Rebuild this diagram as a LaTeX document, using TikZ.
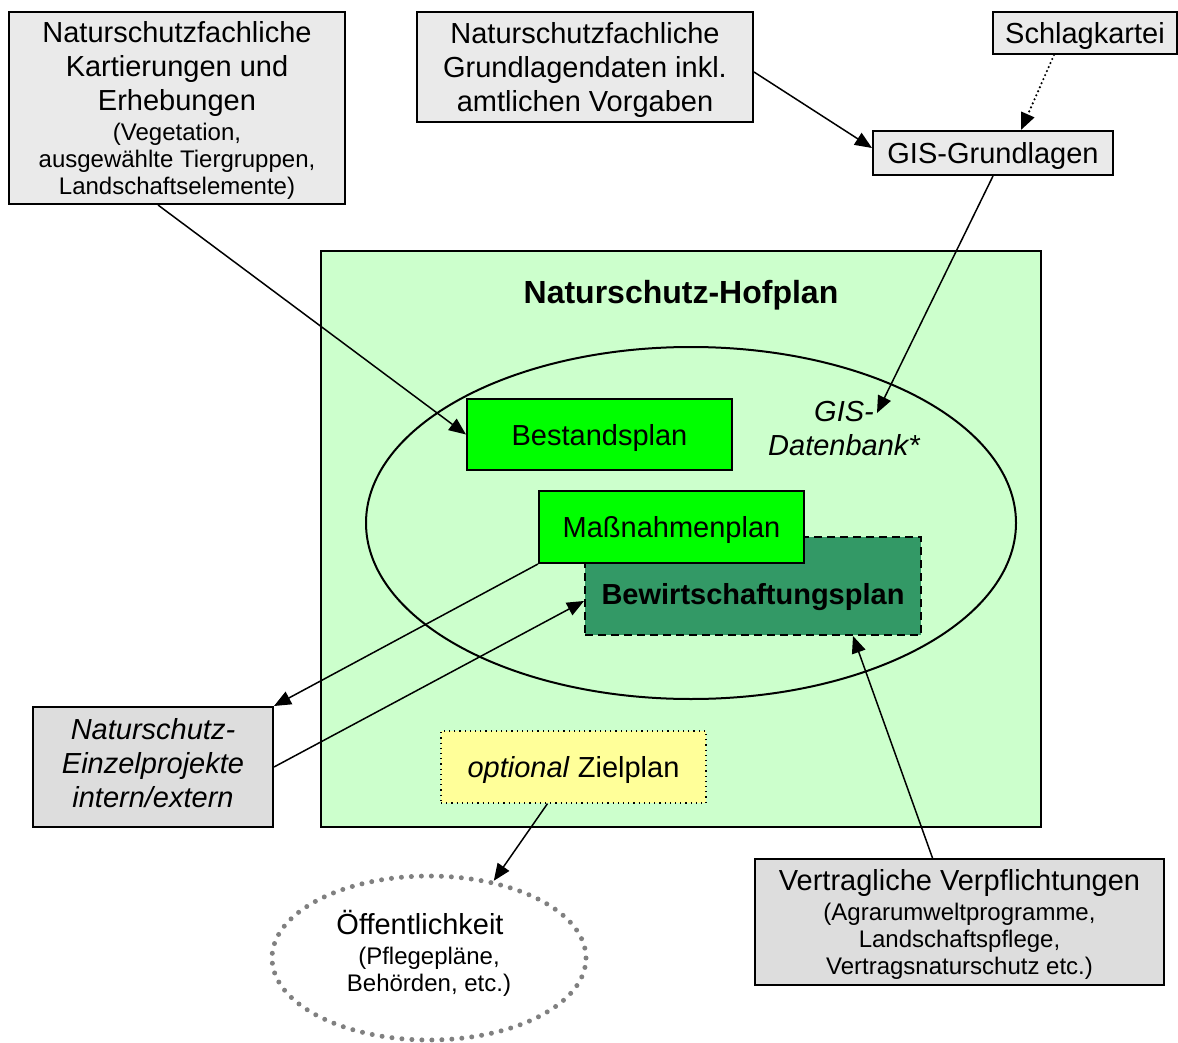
\documentclass[tikz,border=0pt]{standalone}
\usepackage{fontspec}
\setmainfont{Liberation Sans}
\usetikzlibrary{arrows.meta,calc,shapes.geometric}
\definecolor{infogrey}{HTML}{EAEAEA}
\definecolor{sidegrey}{HTML}{DDDDDD}
\definecolor{hofgreen}{HTML}{CCFFCC}
\definecolor{plangreen}{HTML}{00FF00}
\definecolor{bewgreen}{HTML}{339966}
\definecolor{zielyellow}{HTML}{FFFF99}
\newcommand{\mainsize}{\fontsize{14.5}{17}\selectfont}
\newcommand{\smallsize}{\fontsize{12}{13.5}\selectfont}
\newcommand{\titlesize}{\fontsize{16}{19}\selectfont}
\tikzset{
    info-box/.style = {draw, fill=infogrey, line width=1pt, rectangle, inner sep=0pt, text depth=0pt, align=center, font=\mainsize},
    side-box/.style = {info-box, fill=sidegrey},
    plan-box/.style = {draw, fill=plangreen, line width=1pt, rectangle, inner sep=0pt, text depth=0pt, font=\mainsize},
    bew-box/.style = {draw, fill=bewgreen, line width=1pt, dash pattern=on 4pt off 2.5pt, rectangle, inner sep=0pt, text height=18.4pt, text depth=0pt, font=\mainsize\bfseries},
    ziel-box/.style = {draw, fill=zielyellow, line width=0.6pt, dotted, rectangle, inner sep=0pt, text depth=0pt, font=\mainsize},
    arrow-line/.style = {-{Triangle[length=8.5pt,width=7pt]}, line width=0.75pt},
}

\begin{document}
\begin{tikzpicture}[x=0.5pt, y=-0.5pt]
\useasboundingbox (0,0) rectangle (1178,1043);
% sources at the top
\node[info-box, minimum width=168pt, minimum height=96pt] (kartierung) at (177,108) {Naturschutzfachliche\\Kartierungen und\\Erhebungen\\[-2pt]{\smallsize (Vegetation,}\\[-3.5pt]{\smallsize ausgewählte Tiergruppen,}\\[-3.5pt]{\smallsize Landschaftselemente)}};
\node[info-box, minimum width=168pt, minimum height=55pt] (grunddaten) at (585,67) {Naturschutzfachliche\\Grundlagendaten inkl.\\amtlichen Vorgaben};
\node[info-box, minimum width=92pt, minimum height=21pt] (schlagkartei) at (1085,33) {Schlagkartei};
\node[info-box, minimum width=120pt, minimum height=22pt] (gis) at (993,153) {GIS-Grundlagen};

% the farm plan
\node[draw, fill=hofgreen, line width=1pt, rectangle, minimum width=360pt, minimum height=288pt] (hofplan) at (681,539) {};
\node[font=\titlesize\bfseries, text depth=0pt] (titel) at (681,292) {Naturschutz-Hofplan};
\node[draw, line width=1pt, ellipse, inner sep=0pt, minimum width=325pt, minimum height=176pt] (datenbank) at (691,523) {};
\node[plan-box, minimum width=132.5pt, minimum height=35.5pt] (bestand) at (599.5,434.5) {Bestandsplan};
\node[font=\mainsize\itshape, align=center, text depth=0pt] (gisdb) at (844,428) {GIS-\\Datenbank*};
\coordinate (gisdbpt) at (877,413);
\node[bew-box, minimum width=168pt, minimum height=49pt] (bewirtschaftung) at (753,586) {Bewirtschaftungsplan};
\node[plan-box, minimum width=132.5pt, minimum height=36pt] (massnahmen) at (671.5,527) {Maßnahmenplan};
\node[ziel-box, minimum width=132.5pt, minimum height=36pt] (ziel) at (573.5,767) {\textit{optional} Zielplan};

% partners below
\node[side-box, font=\mainsize\itshape, text depth=4pt, minimum width=120pt, minimum height=60pt] (einzel) at (153,767) {Naturschutz-\\Einzelprojekte\\intern/extern};
\node[draw=gray, line width=2.5pt, line cap=round, dash pattern=on 0pt off 5pt, ellipse, inner sep=0pt, minimum width=157pt, minimum height=82pt, text depth=7pt, align=center, font=\mainsize] (oeff) at (429,958) {Öffentlichkeit\hspace*{9pt}\\[-2pt]{\smallsize (Pflegepläne,}\\[-3.5pt]{\smallsize Behörden, etc.)}};
\node[side-box, minimum width=204.5pt, minimum height=63pt] (vertrag) at (959.5,922) {Vertragliche Verpflichtungen\\[-2pt]{\smallsize (Agrarumweltprogramme,}\\[-3.5pt]{\smallsize Landschaftspflege,}\\[-3.5pt]{\smallsize Vertragsnaturschutz etc.)}};

% connectors
\draw[arrow-line] ($(kartierung.south)+(-19,0)$) -- (bestand.west);
\draw[arrow-line] ($(grunddaten.east)+(0,5)$) -- ($(gis.west)+(0,-5)$);
\draw[arrow-line, line width=1.2pt, line cap=round, dash pattern=on 0pt off 2.2pt] ($(schlagkartei.south)+(-31,0)$) -- ($(gis.north)+(28,0)$);
\draw[arrow-line] (gis.south) -- (gisdbpt);
\draw[arrow-line] (massnahmen.south west) -- (einzel.north east);
\draw[arrow-line] (einzel.east) -- ($(bewirtschaftung.west)+(0,15)$);
\draw[arrow-line] ($(vertrag.north)+(-27,0)$) -- ($(bewirtschaftung.south)+(100,0)$);
\draw[arrow-line] ($(ziel.south)+(-26,0)$) -- (oeff.50);
\end{tikzpicture}
\end{document}
